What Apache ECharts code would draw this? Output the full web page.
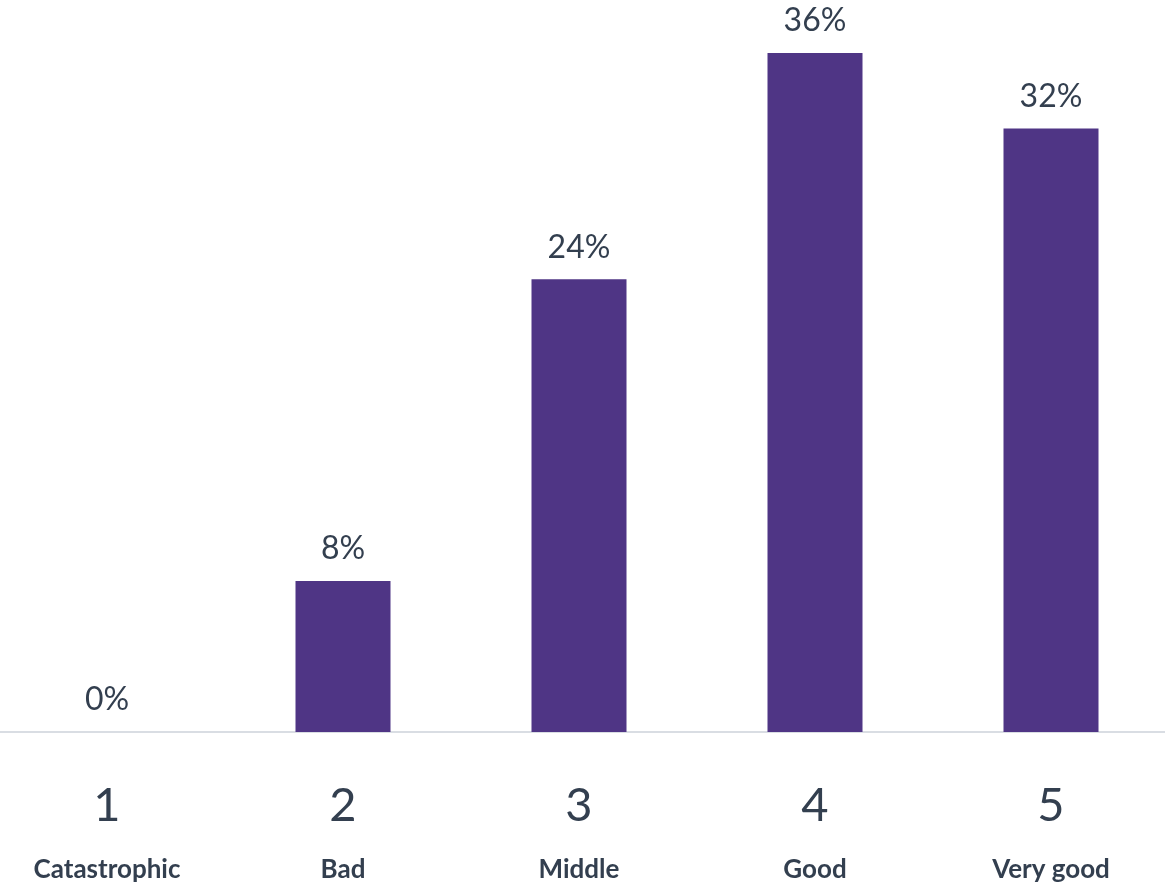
<!DOCTYPE html>
<html><head><meta charset="utf-8">
<script src="https://cdn.jsdelivr.net/npm/echarts@6/dist/echarts.min.js"></script>
<style>html,body{margin:0;padding:0;background:#fff;overflow:hidden}#c{width:1180px;height:895px;margin-left:-11px}</style>
</head><body><div id="c"></div>
<script>
const scores = ['1', '2', '3', '4', '5'];
const labels = ['Catastrophic', 'Bad', 'Middle', 'Good', 'Very good'];
const values = [0, 8, 24, 36, 32];

const chart = echarts.init(document.getElementById('c'));
chart.setOption({
  animation: false,
  grid: { left: 0, right: 0, top: 53, bottom: 163, containLabel: false },
  xAxis: {
    type: 'category',
    data: scores.map((s, i) => s + '\n' + labels[i]),
    axisLine: { lineStyle: { color: '#D9DDE3', width: 2 } },
    axisTick: { show: false },
    axisLabel: {
      interval: 0,
      margin: 42,
      formatter: (v) => { const p = v.split('\n'); return '{n|' + p[0] + '}\n{t|' + p[1] + '}'; },
      rich: {
        n: { fontFamily: 'Lato', fontSize: 47, color: '#333F4F', lineHeight: 64 },
        t: { fontFamily: 'Lato', fontWeight: 'bold', fontSize: 26, color: '#333F4F', lineHeight: 64 }
      }
    }
  },
  yAxis: {
    type: 'value', min: 0, max: 36, show: false,
    splitLine: { show: false }
  },
  series: [{
    type: 'bar',
    data: values,
    barWidth: 95,
    itemStyle: { color: '#4F3585' },
    label: {
      show: true, position: 'top', distance: 16,
      formatter: (p) => p.value + '%',
      fontFamily: 'Lato', fontSize: 32, color: '#333F4F'
    }
  }]
});
</script></body></html>
